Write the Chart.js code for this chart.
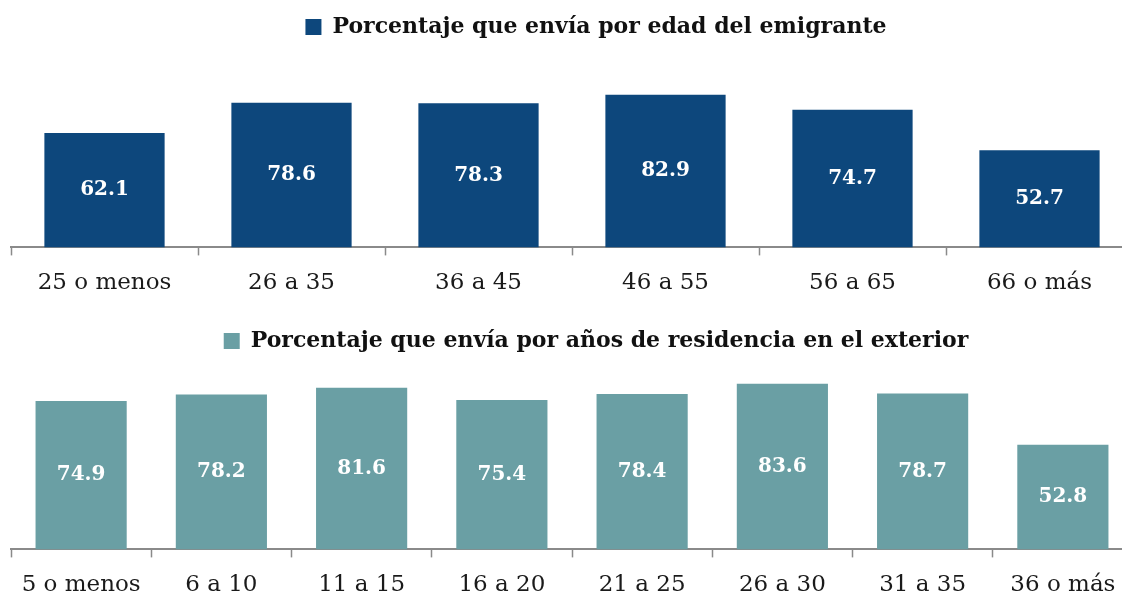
<!DOCTYPE html>
<html lang="es">
<head>
    <meta charset="UTF-8">
    <title>Porcentaje que envía</title>
    <script src="https://cdn.jsdelivr.net/npm/chart.js"></script>
    <style>
        html, body { margin: 0; padding: 0; background: #fff; overflow: hidden; width: 1122px; height: 594px; }
        .box { position: absolute; left: 0; width: 1181px; }
        #wrapTop { top: 0; height: 311px; }
        #wrapBottom { top: 296px; height: 317px; }
    </style>
</head>
<body>

<div class="box" id="wrapTop"><canvas id="chartTop" width="1181" height="311"></canvas></div>
<div class="box" id="wrapBottom"><canvas id="chartBottom" width="1181" height="317"></canvas></div>

<script>
    // datos
    var edadLabels = ['25 o menos', '26 a 35', '36 a 45', '46 a 55', '56 a 65', '66 o más'];
    var edadValues = [62.1, 78.6, 78.3, 82.9, 74.7, 52.7];
    var edadTitle = 'Porcentaje que envía por edad del emigrante';

    var residLabels = ['5 o menos', '6 a 10', '11 a 15', '16 a 20', '21 a 25', '26 a 30', '31 a 35', '36 o más'];
    var residValues = [74.9, 78.2, 81.6, 75.4, 78.4, 83.6, 78.7, 52.8];
    var residTitle = 'Porcentaje que envía por años de residencia en el exterior';

    var serif = "'DejaVu Serif', 'Liberation Serif', serif";
    var axisGrey = '#8a8a8a';

    // etiquetas blancas dentro de las barras
    var barValues = {
        id: 'barValues',
        afterDatasetsDraw: function(chart) {
            var ctx = chart.ctx;
            var ds = chart.data.datasets[0];
            var meta = chart.getDatasetMeta(0);
            ctx.save();
            ctx.fillStyle = '#ffffff';
            ctx.font = 'bold 20px ' + serif;
            ctx.textAlign = 'center';
            ctx.textBaseline = 'middle';
            meta.data.forEach(function(bar, i) {
                ctx.fillText(ds.data[i].toFixed(1), bar.x, (bar.y + bar.base) / 2);
            });
            ctx.restore();
        }
    };

    function makeChart(id, labels, values, title, color, barPct, yMax, pad) {
        var ctx = document.getElementById(id).getContext('2d');
        return new Chart(ctx, {
            type: 'bar',
            data: {
                labels: labels,
                datasets: [{
                    label: title,
                    data: values,
                    backgroundColor: color,
                    borderWidth: 0,
                    categoryPercentage: 1,
                    barPercentage: barPct
                }]
            },
            options: {
                responsive: false,
                animation: false,
                layout: { padding: pad },
                plugins: {
                    tooltip: { enabled: false },
                    legend: {
                        display: true,
                        position: 'top',
                        labels: {
                            color: '#111',
                            font: { family: serif, size: 22, weight: 'bold' },
                            boxWidth: 16,
                            boxHeight: 16,
                            padding: 10
                        }
                    }
                },
                scales: {
                    x: {
                        grid: {
                            display: true,
                            drawOnChartArea: false,
                            color: axisGrey,
                            tickLength: 8,
                            tickWidth: 1.5
                        },
                        border: { display: true, color: axisGrey, width: 2 },
                        ticks: {
                            color: '#1a1a1a',
                            font: { family: serif, size: 23 },
                            padding: 14,
                            maxRotation: 0,
                            autoSkip: false
                        }
                    },
                    y: {
                        display: false,
                        min: 0,
                        max: yMax
                    },
                    // eje vacío a la derecha para centrar el título como en el original
                    yr: {
                        position: 'right',
                        display: true,
                        grid: { display: false },
                        border: { display: false },
                        ticks: { display: false },
                        afterFit: function(scale) { scale.width = 48; }
                    }
                }
            },
            plugins: [barValues]
        });
    }

    makeChart('chartTop', edadLabels, edadValues, edadTitle, '#0d477c', 0.643, 108.3,
        { left: 11, right: 0, top: 6, bottom: 0 });
    makeChart('chartBottom', residLabels, residValues, residTitle, '#6a9fa4', 0.65, 94.6,
        { left: 11, right: 0, top: 24, bottom: 0 });
</script>

</body>
</html>
